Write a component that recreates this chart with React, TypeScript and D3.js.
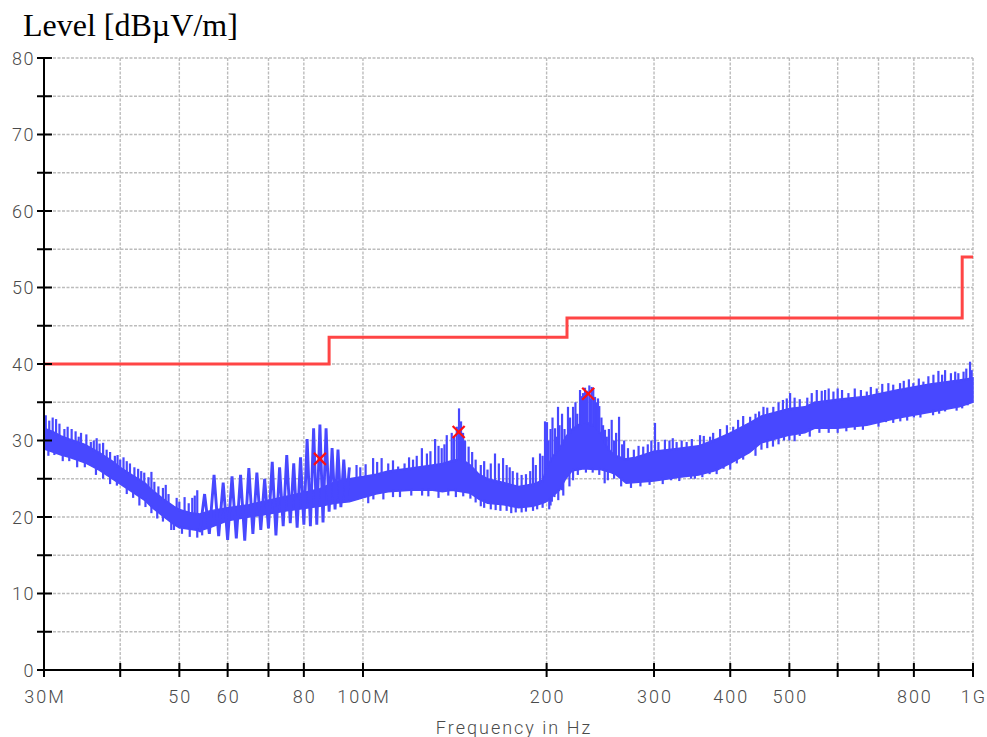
import React from "react";
import * as d3 from "d3";

const W = 987;
const H = 737;

// Axis ticks
const xTickValues = [30, 40, 50, 60, 70, 80, 100, 200, 300, 400, 500, 600, 700, 800, 1000];
const xTickLabels = ["30M", "", "50", "60", "", "80", "100M", "200", "300", "400", "500", "", "", "800", "1G"];
const yTickValues = [0, 5, 10, 15, 20, 25, 30, 35, 40, 45, 50, 55, 60, 65, 70, 75, 80];
const yLabelValues = [0, 10, 20, 30, 40, 50, 60, 70, 80];

// Limit line (MHz, dBµV/m)
const limitFreq = [30, 88, 88, 216, 216, 960, 960, 1000];
const limitLevel = [40, 40, 43.5, 43.5, 46, 46, 54, 54];

// Core band of the measured trace
const bandFreq = [30, 31, 32, 33, 35, 37, 39, 40, 42, 44, 45, 47, 49, 50, 52, 54, 56, 60, 65, 70, 75, 80, 85, 90, 95, 100, 105, 110, 120, 130, 135, 140, 145, 150, 155, 160, 170, 180, 190, 197, 200, 205, 210, 215, 220, 230, 240, 245, 250, 255, 260, 270, 280, 290, 300, 330, 355, 380, 400, 430, 450, 500, 530, 550, 600, 670, 750, 850, 950, 1000];
const bandLow = [28.9, 28.5, 28.1, 27.8, 27.1, 26.1, 24.9, 24.3, 23.2, 22.1, 21.3, 20.1, 19.0, 18.6, 18.4, 18.2, 18.6, 19.5, 20.0, 20.4, 20.8, 21.1, 21.4, 21.8, 22.0, 22.5, 23.0, 23.3, 23.5, 23.5, 23.3, 23.5, 23.3, 23.1, 22.3, 21.8, 21.6, 21.2, 21.4, 21.8, 22.0, 22.8, 23.5, 25.0, 26.0, 26.3, 26.2, 26.2, 26.0, 25.8, 25.5, 24.4, 24.5, 24.6, 24.7, 25.2, 25.5, 26.1, 27.0, 28.4, 29.7, 30.7, 31.0, 31.6, 31.6, 32.0, 32.9, 33.7, 34.4, 35.0];
const bandHigh = [31.6, 31.2, 30.6, 30.2, 29.5, 28.4, 27.2, 26.5, 25.4, 24.4, 23.6, 22.4, 21.4, 21.0, 20.6, 20.4, 20.8, 21.2, 21.6, 22.2, 22.7, 23.2, 23.7, 24.6, 25.0, 25.3, 25.6, 26.0, 26.4, 26.8, 27.0, 27.4, 27.6, 26.8, 25.6, 25.0, 24.5, 24.0, 24.3, 24.8, 26.5, 28.0, 29.0, 30.5, 31.5, 32.5, 32.0, 31.0, 29.5, 28.5, 28.0, 27.6, 27.8, 28.2, 28.6, 29.0, 29.3, 30.2, 31.0, 32.3, 33.2, 34.2, 34.4, 35.0, 35.4, 35.8, 36.6, 37.4, 37.9, 38.2];

// Comb-like oscillation between 54 and 95 MHz (alternating peaks / troughs)
const combFreq = [54, 55, 56, 57, 58, 59, 60, 61, 62, 63, 64, 65, 66, 67, 68, 69, 70, 71, 72, 73, 74, 75, 76, 77, 78, 79, 80, 81, 82, 83, 84, 85, 86, 87, 88, 89, 90, 91, 92, 93, 94, 95];
const combLevel = [18.0, 23.0, 17.8, 25.5, 17.5, 24.5, 17.0, 25.3, 17.2, 25.5, 16.9, 26.4, 17.8, 25.8, 18.3, 25.0, 18.5, 27.2, 17.6, 26.5, 18.8, 28.1, 19.2, 27.0, 18.6, 27.8, 19.0, 30.2, 18.8, 31.6, 19.0, 32.1, 19.3, 31.6, 20.7, 29.0, 21.0, 28.8, 21.3, 27.5, 22.0, 26.5];

// Narrow upward spikes above the band
const spikeFreq = [30.2, 30.6, 31, 31.4, 31.8, 32.4, 32.8, 33.3, 33.8, 34.2, 34.5, 35.2, 35.8, 36.2, 36.6, 37, 37.5, 38, 38.5, 39.2, 39.6, 40, 40.5, 41, 41.5, 42.2, 42.8, 43.3, 43.8, 44.5, 45, 45.5, 46.2, 47, 47.5, 48, 49.5, 50, 51, 51.8, 52.5, 53, 53.5,
  97.6, 99, 101, 103.9, 105.5, 107.3, 110, 112, 114.2, 117, 119, 120.8, 122.5, 124.9, 127.3, 129, 131.3, 133, 134.6, 136, 137.2, 139.8, 141, 142.5, 143.7, 144.8, 145.9, 147, 149, 151, 153, 156, 158, 160, 162, 164.6, 167, 169.7, 172, 174, 176, 179, 182, 185, 188, 190, 192, 195.1, 197, 198.8, 200.3,
  201.5, 203, 204.5, 206.5, 207.5, 208.8, 210, 212, 214, 216.8, 218.5, 221, 223, 224.5, 226.9, 228.5, 229.5, 231.2, 233, 235, 236, 237.1, 238.5, 240.1, 241.5, 242.8, 244, 246, 247.5, 249.3, 251, 253, 255.7, 258, 260, 262.9, 266, 268, 271.9, 278, 283, 288, 293, 297,
  301.1, 305, 312.6, 318, 322, 326.7, 333, 339.3, 346, 356.9, 362, 370.7, 375, 385, 395, 404.5, 412, 420, 431.2, 440, 446, 453.4, 460, 470.6, 480, 488, 495.1, 501.4, 510, 520, 535,
  544.1, 554.5, 565, 572.2, 580, 590.5, 600, 610, 624.9, 640, 655, 669.7, 680, 695.3, 710, 726.5, 740, 759.3, 770, 785, 798.4, 815, 829.3, 845, 861.2, 877.6, 890, 900, 920, 935, 946.2, 965, 975, 988.9, 995];
const spikeLevel = [33.3, 32.6, 33.0, 32.8, 32.2, 31.5, 31.8, 31.5, 31.2, 30.5, 31.0, 30.8, 29.8, 30.0, 30.3, 29.6, 29.7, 28.8, 28.5, 28.0, 28.1, 27.5, 27.8, 27.3, 27.0, 26.5, 26.3, 26.0, 25.8, 25.2, 25.9, 24.6, 24.0, 23.8, 24.2, 23.0, 22.5, 22.0, 22.6, 21.8, 22.5, 22.8, 23.5,
  26.8, 26.5, 26.9, 27.7, 27.2, 27.7, 27.0, 27.4, 26.6, 27.0, 27.8, 27.5, 28.0, 29.0, 28.3, 28.6, 30.2, 29.3, 29.0, 29.5, 30.7, 31.0, 30.5, 31.8, 34.2, 32.5, 31.0, 30.0, 29.2, 28.5, 27.5, 26.8, 27.3, 26.2, 27.0, 28.3, 27.0, 27.7, 26.8, 26.5, 26.0, 25.8, 25.5, 25.6, 26.0, 27.8, 26.8, 28.3, 28.0, 32.5, 32.4,
  30.0, 31.5, 33.0, 31.6, 30.5, 34.4, 32.0, 33.5, 31.5, 34.4, 33.0, 34.4, 35.0, 33.5, 36.6, 35.8, 36.2, 36.9, 36.5, 37.2, 35.5, 37.0, 36.8, 35.7, 35.0, 35.5, 34.5, 33.0, 32.0, 31.4, 30.5, 31.5, 32.7, 30.0, 31.0, 33.1, 29.5, 30.0, 29.0, 28.8, 29.3, 29.2, 29.5, 30.0,
  32.3, 29.8, 30.1, 30.0, 30.3, 29.8, 30.0, 29.8, 30.2, 30.7, 30.6, 30.5, 31.0, 31.5, 32.0, 31.8, 32.7, 33.2, 33.1, 33.5, 33.8, 34.4, 34.3, 34.4, 35.0, 35.3, 35.5, 36.2, 35.6, 35.4, 35.6,
  36.2, 36.6, 36.5, 36.6, 36.8, 36.4, 36.8, 36.6, 36.2, 36.8, 36.6, 36.4, 37.0, 36.8, 37.4, 37.5, 37.3, 37.5, 37.8, 38.0, 37.5, 38.1, 37.7, 38.4, 38.6, 39.1, 38.6, 39.2, 38.8, 39.0, 38.8, 39.0, 39.4, 40.3, 39.2];

// Narrow downward dips below the band
const dipFreq = [30.5, 31.2, 32.2, 33, 34, 35, 36.5, 37.5, 38.5, 39.5, 41, 42, 43, 44, 45, 46, 47, 48.5, 49, 50.5, 52, 53.5, 54.5,
  102, 104, 108, 112, 115, 120, 125, 128, 133, 138, 142, 146, 150, 153, 156, 158, 162, 165, 168, 172, 175, 178, 182, 185, 190, 193, 197,
  202, 203, 204, 206, 209, 212, 213, 218, 221, 225, 232, 238, 244, 249, 252, 258, 265, 275, 285, 295,
  310, 320, 330, 345, 350, 360, 370, 380, 390, 400, 410, 420, 440, 450, 460, 470, 480, 490, 500, 510, 520, 540, 560, 580, 600, 620, 640, 660, 700, 720, 740, 760, 780, 800, 820, 860, 880, 900, 940, 960, 980];
const dipLevel = [28.0, 28.1, 27.3, 27.3, 26.5, 26.5, 25.5, 25.0, 24.3, 24.1, 23.0, 22.5, 21.5, 21.3, 20.5, 19.8, 19.4, 18.3, 18.3, 17.8, 17.4, 17.3, 17.6,
  21.8, 22.3, 22.3, 22.6, 22.6, 22.8, 22.8, 22.7, 22.5, 22.8, 22.6, 22.7, 22.4, 21.9, 21.4, 21.2, 21.0, 20.9, 20.8, 20.8, 20.5, 20.6, 20.6, 20.7, 20.8, 21.0, 21.2,
  21.0, 21.5, 22.0, 22.6, 22.2, 23.5, 22.8, 24.0, 24.8, 25.5, 25.8, 25.8, 25.5, 24.4, 24.8, 25.0, 24.0, 23.8, 24.0, 24.2,
  24.3, 24.8, 24.7, 25.0, 25.0, 25.2, 25.6, 25.6, 26.3, 26.2, 27.0, 27.5, 28.0, 28.8, 29.0, 29.2, 29.5, 30.0, 30.0, 29.9, 30.6, 30.5, 31.0, 31.0, 31.0, 31.2, 31.4, 31.4, 31.8, 32.4, 32.3, 32.5, 32.6, 33.0, 33.0, 33.3, 33.5, 33.8, 33.9, 34.2, 34.6];

// Final measurement markers
const markerFreq = [85, 143.5, 234];
const markerLevel = [27.6, 31.1, 36.1];

const BLUE = "#4848ff";
const RED = "#ff4545";
const GRID = "#bcbcbc";
const LABEL = "#4a4a4a";
const FONT = "Roboto, 'DejaVu Sans', sans-serif";

export default function App() {
  const x = d3.scaleLog().domain([30, 1000]).range([44, 973]);
  const y = d3.scaleLinear().domain([0, 80]).range([670, 58]);

  const logF = bandFreq.map((f) => Math.log10(f));
  const interp = (arr: number[], f: number) => {
    const lf = Math.log10(f);
    const i = d3.bisectLeft(bandFreq, f);
    if (i <= 0) return arr[0];
    if (i >= bandFreq.length) return arr[arr.length - 1];
    const t = (lf - logF[i - 1]) / (logF[i] - logF[i - 1]);
    return arr[i - 1] + t * (arr[i] - arr[i - 1]);
  };

  const idx = (a: number[]) => a.map((_, i) => i);

  const bandArea = d3
    .area<number>()
    .x((i) => x(bandFreq[i]))
    .y0((i) => y(bandLow[i]))
    .y1((i) => y(bandHigh[i]))(idx(bandFreq)) as string;

  const combPath = d3
    .line<number>()
    .x((i) => x(combFreq[i]))
    .y((i) => y(combLevel[i]))(idx(combFreq)) as string;

  const limitPath = d3
    .line<number>()
    .x((i) => x(limitFreq[i]))
    .y((i) => y(limitLevel[i]))(idx(limitFreq)) as string;

  return (
    <svg
      width={W}
      height={H}
      style={{ position: "absolute", left: 0, top: 0, display: "block", background: "#fff" }}
    >
      <rect x={0} y={0} width={W} height={H} fill="#fff" />
      {/* grid */}
      {yTickValues.filter((v) => v > 0).map((v) => (
        <line key={"gy" + v} x1={44} x2={973} y1={y(v)} y2={y(v)} stroke={GRID} strokeWidth={1.4} strokeDasharray="3,1.5" />
      ))}
      {xTickValues.filter((v) => v > 30).map((v) => (
        <line key={"gx" + v} x1={x(v)} x2={x(v)} y1={58} y2={670} stroke={GRID} strokeWidth={1.4} strokeDasharray="3,1.5" />
      ))}

      {/* trace */}
      <path d={bandArea} fill={BLUE} stroke={BLUE} strokeWidth={1.5} />
      <path d={combPath} fill="none" stroke={BLUE} strokeWidth={2.9} strokeLinejoin="miter" />
      {spikeFreq.map((f, i) => (
        <line key={"s" + i} x1={x(f)} x2={x(f)} y1={y(interp(bandHigh, f)) + 2} y2={y(spikeLevel[i])} stroke={BLUE} strokeWidth={2.2} />
      ))}
      {dipFreq.map((f, i) => (
        <line key={"d" + i} x1={x(f)} x2={x(f)} y1={y(interp(bandLow, f)) - 2} y2={y(dipLevel[i])} stroke={BLUE} strokeWidth={2.2} />
      ))}

      {/* limit */}
      <path d={limitPath} fill="none" stroke={RED} strokeWidth={3} />

      {/* markers */}
      {markerFreq.map((f, i) => {
        const cx = x(f);
        const cy = y(markerLevel[i]);
        const s = 6;
        return (
          <g key={"m" + i} stroke="#ff1010" strokeWidth={2.2}>
            <line x1={cx - s} y1={cy - s} x2={cx + s} y2={cy + s} />
            <line x1={cx - s} y1={cy + s} x2={cx + s} y2={cy - s} />
          </g>
        );
      })}

      {/* axes */}
      <line x1={44} x2={44} y1={57} y2={671} stroke="#000" strokeWidth={2} />
      <line x1={43} x2={974} y1={670} y2={670} stroke="#000" strokeWidth={2} />
      {yTickValues.map((v) => (
        <line key={"ty" + v} x1={37} x2={52} y1={y(v)} y2={y(v)} stroke="#000" strokeWidth={2} />
      ))}
      {xTickValues.map((v) => (
        <line key={"tx" + v} x1={x(v)} x2={x(v)} y1={663} y2={677} stroke="#000" strokeWidth={2} />
      ))}

      {/* labels */}
      {yLabelValues.map((v) => (
        <text key={"ly" + v} x={35} y={y(v) + 6.5} textAnchor="end" fontFamily={FONT} fontWeight={300} fontSize={18} fill={LABEL} letterSpacing={1.5}>
          {v}
        </text>
      ))}
      {xTickValues.map((v, i) =>
        xTickLabels[i] ? (
          <text key={"lx" + v} x={x(v) + 1} y={703} textAnchor="middle" fontFamily={FONT} fontWeight={300} fontSize={18} fill={LABEL} letterSpacing={2}>
            {xTickLabels[i]}
          </text>
        ) : null
      )}
      <text x={514} y={734} textAnchor="middle" fontFamily={FONT} fontWeight={300} fontSize={18} fill={LABEL} letterSpacing={2}>
        Frequency in Hz
      </text>
      <text x={23} y={36} fontFamily="'Liberation Serif', 'Times New Roman', serif" fontSize={32} fill="#000">
        Level [dBµV/m]
      </text>
    </svg>
  );
}
